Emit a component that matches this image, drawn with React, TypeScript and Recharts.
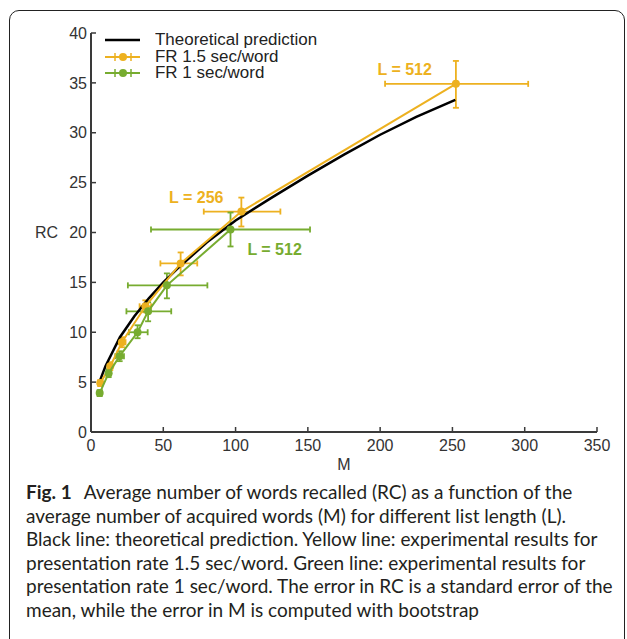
import React from 'react';
import {
  ScatterChart,
  Scatter,
  XAxis,
  YAxis,
  ErrorBar,
  ReferenceDot,
  Legend,
} from 'recharts';

// theoretical prediction (black curve)
const theoryM = [5, 10, 20, 30, 40, 50, 60, 80, 100, 125, 150, 175, 200, 225, 252];
const theoryRC = [4.7, 6.6, 9.5, 11.6, 13.4, 15.0, 16.4, 19.0, 21.2, 23.5, 25.7, 27.8, 29.8, 31.6, 33.3];

// FR 1.5 sec/word (yellow)
const yelM = [6.4, 13.3, 21.4, 37.6, 62, 104, 252.4];
const yelRC = [4.9, 6.6, 9.0, 12.6, 16.9, 22.1, 34.9];
const yelMErr = [[1, 1], [1.5, 1.5], [2.5, 2.5], [4, 4], [14, 11.5], [26, 27], [49, 50]];
const yelRCErr = [[0.3, 0.3], [0.4, 0.4], [0.5, 0.5], [0.6, 0.6], [1.2, 1.1], [1.5, 1.4], [2.4, 2.3]];

// FR 1 sec/word (green)
const grnM = [6, 12.2, 19.8, 32.2, 39.5, 52.5, 96.5];
const grnRC = [3.9, 5.9, 7.6, 10.0, 12.1, 14.7, 20.3];
const grnMErr = [[1, 1], [1.5, 1.5], [3, 3], [6, 7], [15, 16], [27, 28], [55, 55]];
const grnRCErr = [[0.3, 0.3], [0.4, 0.4], [0.5, 0.5], [0.6, 0.7], [1.0, 0.9], [1.3, 1.2], [1.7, 1.7]];

const xTicks = [0, 50, 100, 150, 200, 250, 300, 350];
const yTicks = [0, 5, 10, 15, 20, 25, 30, 35, 40];

// list-length annotations
const noteText = ['L = 512', 'L = 256', 'L = 512'];
const noteM = [217, 72.8, 127];
const noteRC = [36.4, 23.5, 18.3];
const noteSeries = ['yel', 'yel', 'grn'];

const YEL = '#EDB120';
const GRN = '#77AC30';
const AXIS = '#3a3a3a';
const FONT = '"Liberation Sans", Arial, sans-serif';

const theory = theoryM.map((m, i) => ({ m, rc: theoryRC[i] }));
const yellow = yelM.map((m, i) => ({ m, rc: yelRC[i], mErr: yelMErr[i], rcErr: yelRCErr[i] }));
const green = grnM.map((m, i) => ({ m, rc: grnRC[i], mErr: grnMErr[i], rcErr: grnRCErr[i] }));

const legendItems = [
  { name: 'Theoretical prediction', color: '#000', marker: false },
  { name: 'FR 1.5 sec/word', color: YEL, marker: true },
  { name: 'FR 1 sec/word', color: GRN, marker: true },
];

const XTick = (props: any) => {
  const { x, y, payload } = props;
  return (
    <g>
      <line x1={x} x2={x} y1={y - 8} y2={y - 13} stroke={AXIS} strokeWidth={1.5} />
      <text x={x} y={y} dy="0.71em" textAnchor="middle" fill="#333" fontSize={16} fontFamily={FONT}>
        {payload.value}
      </text>
    </g>
  );
};

const YTick = (props: any) => {
  const { x, y, payload } = props;
  return (
    <g>
      <line x1={x + 4} x2={x + 9} y1={y} y2={y} stroke={AXIS} strokeWidth={1.5} />
      <text x={x} y={y} dy="0.355em" textAnchor="end" fill="#333" fontSize={16} fontFamily={FONT}>
        {payload.value}
      </text>
    </g>
  );
};

const dot = (color: string) => (p: any) => <circle cx={p.cx} cy={p.cy} r={4} fill={color} />;
const noDot = () => <g />;

const LegendBox = () => (
  <div style={{ fontFamily: FONT, fontSize: 16, color: '#222', lineHeight: '16.5px' }}>
    {legendItems.map((it) => (
      <div key={it.name} style={{ display: 'flex', alignItems: 'center', height: 16.5 }}>
        <svg width={52} height={16} style={{ display: 'block' }}>
          <line x1={2} x2={37} y1={8} y2={8} stroke={it.color} strokeWidth={it.marker ? 2 : 2.5} />
          {it.marker && (
            <>
              <line x1={12} x2={12} y1={4} y2={12} stroke={it.color} strokeWidth={1.5} />
              <line x1={28} x2={28} y1={4} y2={12} stroke={it.color} strokeWidth={1.5} />
              <circle cx={20} cy={8} r={4} fill={it.color} />
            </>
          )}
        </svg>
        <span style={{ transform: 'scaleX(1.06)', transformOrigin: 'left center', display: 'inline-block' }}>{it.name}</span>
      </div>
    ))}
  </div>
);

export default function App() {
  return (
    <div style={{ position: 'absolute', left: 0, top: 0, width: 627, height: 639, background: '#fff', overflow: 'hidden' }}>
      <div
        style={{
          position: 'absolute',
          left: 9,
          top: 10,
          width: 616,
          height: 660,
          border: '1.2px solid #222',
          borderRadius: 10,
          boxSizing: 'border-box',
        }}
      />
      <div style={{ position: 'absolute', left: 0, top: 0 }}>
        <ScatterChart width={627} height={480} margin={{ top: 33, right: 30, left: 0, bottom: 8 }}>
          <XAxis
            type="number"
            dataKey="m"
            domain={[0, 350]}
            ticks={xTicks}
            height={40}
            tickSize={0}
            tickMargin={8}
            tick={<XTick />}
            axisLine={{ stroke: AXIS, strokeWidth: 2 }}
            tickLine={false}
            label={{ value: 'M', position: 'insideBottom', offset: 2, fill: '#333', fontSize: 16, fontFamily: FONT }}
          />
          <YAxis
            type="number"
            dataKey="rc"
            domain={[0, 40]}
            ticks={yTicks}
            width={91}
            tickSize={0}
            tickMargin={4}
            tick={<YTick />}
            axisLine={{ stroke: AXIS, strokeWidth: 2 }}
            tickLine={false}
            label={{ value: 'RC', position: 'insideLeft', offset: 35, fill: '#333', fontSize: 16, fontFamily: FONT }}
          />
          <Legend
            layout="horizontal"
            verticalAlign="middle"
            align="center"
            wrapperStyle={{ left: 103, top: 32, width: 'auto' }}
            content={<LegendBox />}
          />
          <Scatter
            name="Theoretical prediction"
            data={theory}
            line={{ stroke: '#000', strokeWidth: 2.5 }}
            lineType="joint"
            shape={noDot}
            isAnimationActive={false}
          />
          <Scatter
            name="FR 1.5 sec/word"
            data={yellow}
            line={{ stroke: YEL, strokeWidth: 2 }}
            lineType="joint"
            shape={dot(YEL)}
            isAnimationActive={false}
          >
            <ErrorBar dataKey="mErr" direction="x" width={3} stroke={YEL} strokeWidth={1.8} isAnimationActive={false} />
            <ErrorBar dataKey="rcErr" direction="y" width={3} stroke={YEL} strokeWidth={1.8} isAnimationActive={false} />
          </Scatter>
          <Scatter
            name="FR 1 sec/word"
            data={green}
            line={{ stroke: GRN, strokeWidth: 2 }}
            lineType="joint"
            shape={dot(GRN)}
            isAnimationActive={false}
          >
            <ErrorBar dataKey="mErr" direction="x" width={3} stroke={GRN} strokeWidth={1.8} isAnimationActive={false} />
            <ErrorBar dataKey="rcErr" direction="y" width={3} stroke={GRN} strokeWidth={1.8} isAnimationActive={false} />
          </Scatter>
          {noteText.map((t, i) => (
            <ReferenceDot
              key={i}
              x={noteM[i]}
              y={noteRC[i]}
              r={0}
              fill="none"
              stroke="none"
              label={{
                value: t,
                position: 'center',
                fill: noteSeries[i] === 'yel' ? YEL : GRN,
                fontSize: 16,
                fontWeight: 'bold',
                fontFamily: FONT,
              }}
            />
          ))}
        </ScatterChart>
      </div>
      <div
        style={{
          position: 'absolute',
          left: 26,
          top: 480,
          fontFamily: 'Lato, "Open Sans", sans-serif',
          fontSize: 19,
          lineHeight: '23.6px',
          color: '#231f20',
          whiteSpace: 'nowrap',
        }}
      >
        <b style={{ marginRight: 12 }}>Fig. 1</b>Average number of words recalled (RC) as a function of the
        <br />
        average number of acquired words (M) for different list length (L).
        <br />
        Black line: theoretical prediction. Yellow line: experimental results for
        <br />
        presentation rate 1.5 sec/word. Green line: experimental results for
        <br />
        presentation rate 1 sec/word. The error in RC is a standard error of the
        <br />
        mean, while the error in M is computed with bootstrap
      </div>
    </div>
  );
}
